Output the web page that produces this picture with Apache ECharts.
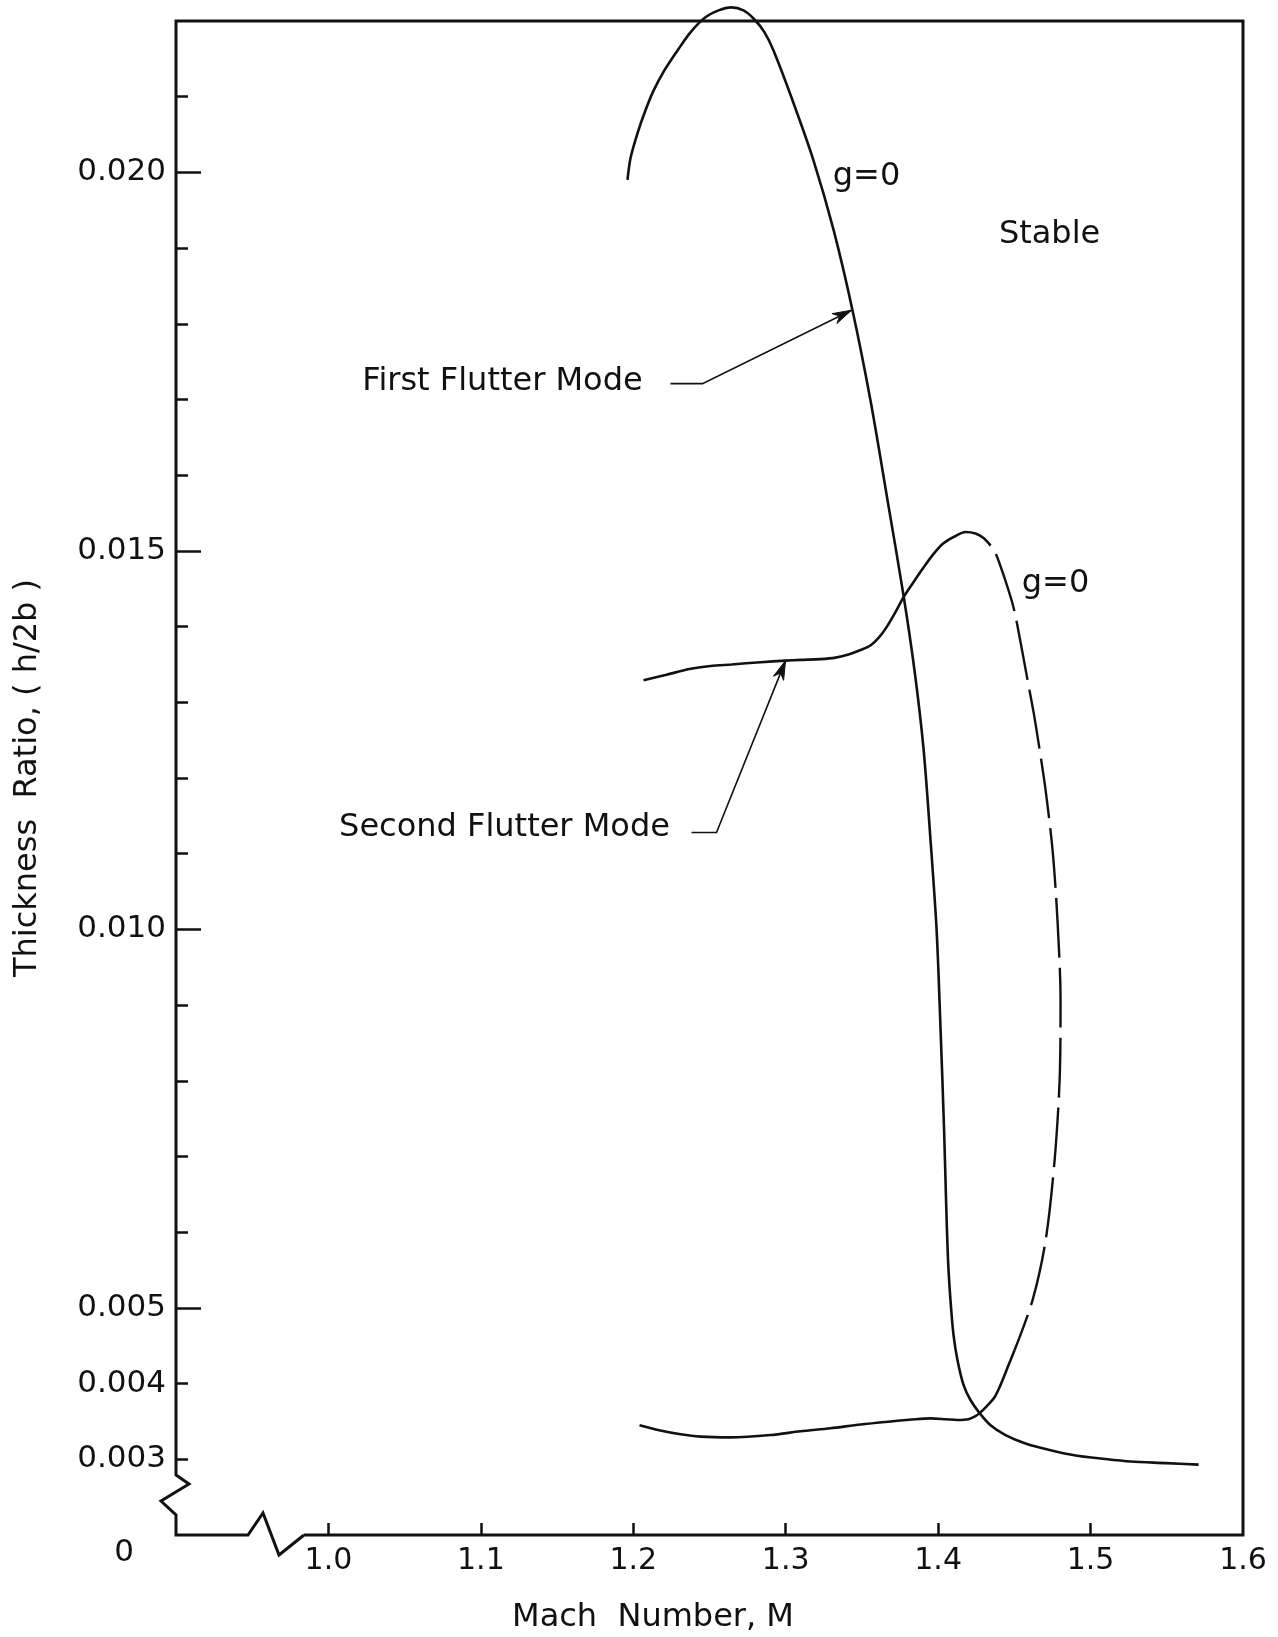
<!DOCTYPE html>
<html><head><meta charset="utf-8">
<script src="https://cdn.jsdelivr.net/npm/echarts@6/dist/echarts.min.js"></script>
<style>html,body{margin:0;padding:0;background:#fff}#c{width:1278px;height:1637px}</style>
</head><body><div id="c"></div>
<script>
// ---- axis values ----
const xTickValues = [1.0, 1.1, 1.2, 1.3, 1.4, 1.5];
const xLabelValues = [1.0, 1.1, 1.2, 1.3, 1.4, 1.5, 1.6];
const yMinorTickValues = [0.003,0.004,0.005,0.006,0.007,0.008,0.009,0.010,0.011,0.012,0.013,0.014,0.015,0.016,0.017,0.018,0.019,0.020,0.021];
const yMajorTickValues = [0.005, 0.010, 0.015, 0.020];
const yLabelValues = [0.002, 0.003, 0.004, 0.005, 0.010, 0.015, 0.020];

// ---- First flutter mode (g = 0), solid ----
const firstModeM = [1.1962,1.1982,1.2028,1.2080,1.2133,1.2205,1.2290,1.2375,1.2467,1.2559,1.2644,1.2723,1.2795,1.2861,1.2920,1.3045,1.3182,1.3314,1.3438,1.3556,1.3668,1.3773,1.3845,1.3904,1.3950,1.3990,1.4016,1.4039,1.4052,1.4065,1.4081,1.4101,1.4127,1.4167,1.4213,1.4272,1.4344,1.4442,1.4573,1.4738,1.4902,1.5066,1.5262,1.5492,1.5709];
const firstModeT = [0.01990,0.02019,0.02052,0.02082,0.02108,0.02135,0.02161,0.02185,0.02204,0.02214,0.02218,0.02214,0.02202,0.02185,0.02161,0.02095,0.02016,0.01924,0.01818,0.01699,0.01567,0.01441,0.01342,0.01239,0.01118,0.00999,0.00867,0.00735,0.00642,0.00563,0.00510,0.00464,0.00431,0.00398,0.00378,0.00361,0.00345,0.00332,0.00321,0.00312,0.00305,0.00301,0.00297,0.00295,0.00293];

// ---- Second flutter mode, upper solid branch ----
const secondUpperM = [1.2067,1.2211,1.2369,1.2507,1.2644,1.2835,1.2999,1.3097,1.3228,1.3327,1.3412,1.3491,1.3556,1.3609,1.3661,1.3720,1.3773,1.3839,1.3904,1.3970,1.4035,1.4108,1.4180,1.4245,1.4298,1.4344];
const secondUpperT = [0.01329,0.01336,0.01344,0.01348,0.01350,0.01353,0.01355,0.01356,0.01357,0.01359,0.01363,0.01369,0.01375,0.01385,0.01399,0.01419,0.01439,0.01459,0.01478,0.01496,0.01510,0.01519,0.01525,0.01523,0.01517,0.01507];

// ---- Second flutter mode (g = 0), dashed branch ----
const secondDashedM = [1.4344,1.4377,1.4436,1.4495,1.4541,1.4587,1.4626,1.4659,1.4705,1.4751,1.4783,1.4803,1.4797,1.4764,1.4705,1.4619,1.4501];
const secondDashedT = [0.01507,0.01497,0.01464,0.01425,0.01379,0.01329,0.01287,0.01246,0.01184,0.01104,0.01012,0.00906,0.00801,0.00695,0.00589,0.00510,0.00444];

// ---- Second flutter mode, lower solid branch ----
const secondLowerM = [1.2041,1.2178,1.2310,1.2441,1.2638,1.2900,1.3097,1.3294,1.3491,1.3688,1.3852,1.3950,1.4049,1.4127,1.4199,1.4245,1.4272,1.4318,1.4370,1.4409,1.4449,1.4475,1.4501];
const secondLowerT = [0.00345,0.00338,0.00333,0.00330,0.00329,0.00332,0.00337,0.00341,0.00346,0.00350,0.00353,0.00354,0.00353,0.00352,0.00353,0.00357,0.00361,0.00370,0.00382,0.00398,0.00418,0.00431,0.00444];

const zip = (a, b) => a.map((v, i) => [v, b[i]]);

const FONT = 'DejaVu Sans';
const INK = '#111';

const chart = echarts.init(document.getElementById('c'), null, {renderer: 'canvas'});

const lineSeries = (name, m, t, extra) => Object.assign({
  name, type: 'line', data: zip(m, t), showSymbol: false, smooth: 0.3,
  clip: false, silent: true,
  lineStyle: {color: INK, width: 2.6}
}, extra || {});

chart.setOption({
  animation: false,
  backgroundColor: '#fff',
  grid: {left: 176, right: 35, top: 21, bottom: 102, containLabel: false, outerBoundsMode: 'none'},
  xAxis: {
    type: 'value', min: 0.9, max: 1.6,
    axisLine: {show: false},
    splitLine: {show: false},
    axisTick: {show: true, inside: true, length: 12, customValues: xTickValues, lineStyle: {color: INK, width: 2.5}},
    axisLabel: {show: true, customValues: xLabelValues, margin: 11, color: INK, fontFamily: FONT, fontSize: 30,
      formatter: v => v.toFixed(1)}
  },
  yAxis: [{
    type: 'value', min: 0.002, max: 0.022, position: 'left',
    axisLine: {show: false},
    splitLine: {show: false},
    axisTick: {show: true, inside: true, length: 12, customValues: yMinorTickValues, lineStyle: {color: INK, width: 2.5}},
    axisLabel: {show: true, customValues: yLabelValues, margin: 10, color: INK, fontFamily: FONT, fontSize: 31,
      formatter: v => Math.abs(v - 0.002) < 1e-9 ? '{z|0}' : v.toFixed(3),
      rich: {z: {fontFamily: FONT, fontSize: 31, color: INK, padding: [36, 32, 0, 0]}}}
  }, {
    type: 'value', min: 0.002, max: 0.022, position: 'left',
    axisLine: {show: false},
    splitLine: {show: false},
    axisTick: {show: true, inside: true, length: 25, customValues: yMajorTickValues, lineStyle: {color: INK, width: 2.5}},
    axisLabel: {show: false}
  }],
  series: [
    lineSeries('First Flutter Mode', firstModeM, firstModeT),
    lineSeries('Second Flutter Mode (upper)', secondUpperM, secondUpperT),
    lineSeries('Second Flutter Mode (g=0, dashed)', secondDashedM, secondDashedT,
      {lineStyle: {color: INK, width: 2.4, type: [60, 10], dashOffset: 60}}),
    lineSeries('Second Flutter Mode (lower)', secondLowerM, secondLowerT)
  ]
});

// ---- annotations (in data coordinates) ----
const annotations = [
  {text: 'g=0', m: 1.3530, t: 0.01994, align: 'center'},
  {text: 'Stable', m: 1.4731, t: 0.01918, align: 'center'},
  {text: 'g=0', m: 1.4770, t: 0.01457, align: 'center'},
  {text: 'First Flutter Mode', m: 1.1142, t: 0.01724, align: 'center'},
  {text: 'Second Flutter Mode', m: 1.1155, t: 0.01134, align: 'center'}
];
const leaders = [
  [[1.2244, 0.01721], [1.2454, 0.01721], [1.3432, 0.01818]],
  [[1.2382, 0.01128], [1.2546, 0.01128], [1.2999, 0.01355]]
];

function drawDecorations() {
  const P = (x, y) => chart.convertToPixel({gridIndex: 0}, [x, y]);
  const [L, B] = P(0.9, 0.002);
  const [R, T] = P(1.6, 0.022);
  const els = [];
  // frame with broken axes
  els.push({type: 'polyline', silent: true, z: 10,
    shape: {points: [[L + 128, B], [R, B], [R, T], [L, T], [L, B - 60], [L + 13, B - 51], [L - 15, B - 34], [L, B - 20], [L, B],
      [L + 72, B], [L + 87, B - 22], [L + 103, B + 20], [L + 128, B]]},
    style: {stroke: INK, lineWidth: 3, fill: null, lineJoin: 'miter'}});
  // leaders with arrowheads
  leaders.forEach(pts => {
    const px = pts.map(p => P(p[0], p[1]));
    els.push({type: 'polyline', silent: true, z: 10, shape: {points: px}, style: {stroke: INK, lineWidth: 1.6, fill: null}});
    const tip = px[px.length - 1], prev = px[px.length - 2];
    const a = Math.atan2(tip[1] - prev[1], tip[0] - prev[0]);
    const len = 19, hw = 5.5;
    const bx = tip[0] - len * Math.cos(a), by = tip[1] - len * Math.sin(a);
    els.push({type: 'polygon', silent: true, z: 10,
      shape: {points: [tip, [bx + hw * Math.sin(a), by - hw * Math.cos(a)], [tip[0] - 0.7 * len * Math.cos(a), tip[1] - 0.7 * len * Math.sin(a)], [bx - hw * Math.sin(a), by + hw * Math.cos(a)]]},
      style: {fill: INK, stroke: INK, lineWidth: 1}});
  });
  annotations.forEach(a => {
    const [x, y] = P(a.m, a.t);
    els.push({type: 'text', silent: true, z: 10, x, y,
      style: {text: a.text, fill: INK, font: '32px "DejaVu Sans"', textAlign: a.align, align: a.align, textVerticalAlign: 'middle', verticalAlign: 'middle'}});
  });
  // axis titles
  els.push({type: 'text', silent: true, z: 10, x: 653, y: 1618,
    style: {text: 'Mach  Number, M', fill: INK, font: '32px "DejaVu Sans"', textAlign: 'center', align: 'center', textVerticalAlign: 'middle', verticalAlign: 'middle'}});
  els.push({type: 'text', silent: true, z: 10, x: 28, y: 778, rotation: Math.PI / 2,
    style: {text: 'Thickness  Ratio, ( h/2b )', fill: INK, font: '32px "DejaVu Sans"', textAlign: 'center', align: 'center', textVerticalAlign: 'middle', verticalAlign: 'middle'}});
  chart.setOption({graphic: {elements: els}});
}
drawDecorations();
</script>
</body></html>
